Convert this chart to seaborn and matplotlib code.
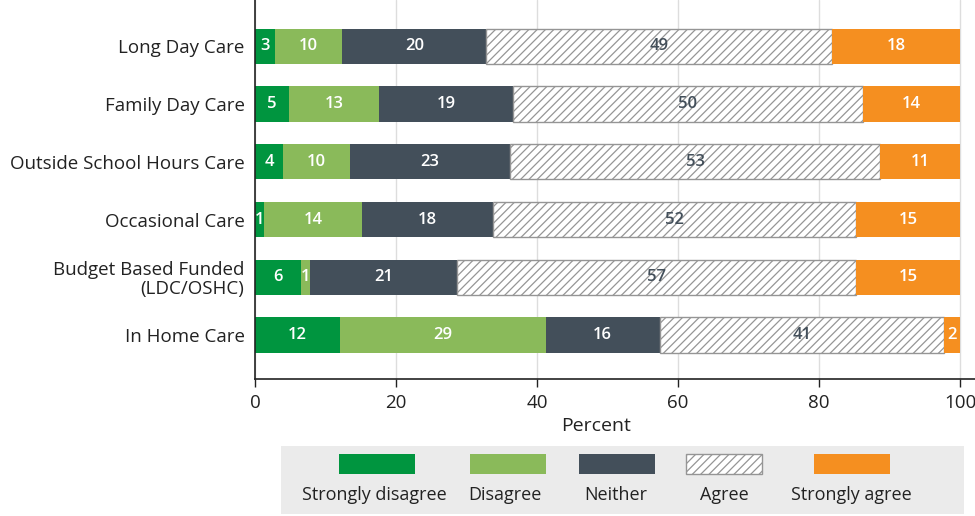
import matplotlib
matplotlib.use("Agg")
import matplotlib.pyplot as plt
from matplotlib.patches import Rectangle
import seaborn as sns
import pandas as pd
import numpy as np

categories = ["Long Day Care", "Family Day Care", "Outside School Hours Care",
              "Occasional Care", "Budget Based Funded\n(LDC/OSHC)", "In Home Care"]
responses = ["Strongly disagree", "Disagree", "Neither", "Agree", "Strongly agree"]

strongly_disagree = [2.8, 4.8, 4.0, 1.3, 6.5, 12.1]
disagree          = [9.6, 12.8, 9.5, 13.9, 1.3, 29.1]
neither           = [20.4, 19.0, 22.7, 18.5, 20.9, 16.2]
agree             = [49.0, 49.6, 52.4, 51.5, 56.5, 40.3]
strongly_agree    = [18.2, 13.8, 11.4, 14.8, 14.8, 2.3]

lab_sd = [3, 5, 4, 1, 6, 12]
lab_d  = [10, 13, 10, 14, 1, 29]
lab_n  = [20, 19, 23, 18, 21, 16]
lab_a  = [49, 50, 53, 52, 57, 41]
lab_sa = [18, 14, 11, 15, 15, 2]

series = [strongly_disagree, disagree, neither, agree, strongly_agree]
labels = [lab_sd, lab_d, lab_n, lab_a, lab_sa]
colors = ["#00953f", "#8aba5a", "#434f5a", "#ffffff", "#f58f20"]
text_colors = ["white", "white", "white", "#434f5a", "white"]

sns.set_style("white")
plt.rcParams['font.family'] = ['Open Sans', 'DejaVu Sans']
plt.rcParams['hatch.linewidth'] = 0.9

fig = plt.figure(figsize=(9.75, 5.16), dpi=100)
ax = fig.add_axes([255/975, 1 - 379/516, (975-255)/975, 379/516])

left = np.zeros(len(categories))
for i, (resp, vals) in enumerate(zip(responses, series)):
    df = pd.DataFrame({"cat": categories, "val": vals})
    n0 = len(ax.patches)
    sns.barplot(data=df, x="val", y="cat", orient="h", color=colors[i],
                width=0.61, ax=ax, saturation=1, zorder=2)
    new = ax.patches[n0:]
    for p, l in zip(new, left):
        p.set_x(l)
        p.set_facecolor(colors[i])
        if resp == "Agree":
            p.set_hatch("////")
            p.set_edgecolor("#959595")
            p.set_linewidth(1.0)
        else:
            p.set_edgecolor("none")
    for p, lab in zip(new, labels[i]):
        cx = p.get_x() + p.get_width() / 2
        cy = p.get_y() + p.get_height() / 2
        ax.text(cx, cy, str(lab), ha="center", va="center", color=text_colors[i],
                fontsize=12, fontweight="semibold", zorder=5)
    left = left + np.array(vals)

ax.set_xlim(0, 102.1)
ax.set_ylim(5.76, -0.80)
ax.set_xticks([0, 20, 40, 60, 80, 100])
ax.xaxis.grid(True, color="#dddddd", linewidth=1, zorder=0)
ax.set_axisbelow(True)
ax.set_ylabel("")
ax.set_xlabel("Percent", fontsize=14, color="#222222")
ax.xaxis.label.set_verticalalignment("center")
ax.xaxis.set_label_coords((596-255)/(975-255), (379-426)/379)
for s in ["top", "right"]:
    ax.spines[s].set_visible(False)
for s in ["left", "bottom"]:
    ax.spines[s].set_color("#222222")
    ax.spines[s].set_linewidth(1.2)
ax.tick_params(axis="x", bottom=True, length=6, width=1, color="#222222",
               labelsize=13.5, pad=5, labelcolor="#222222")
ax.tick_params(axis="y", left=False, labelsize=13.5, pad=4, labelcolor="#222222")
for t in ax.get_yticklabels():
    t.set_linespacing(1.05)

# legend panel
lax = fig.add_axes([281/975, 2/516, (964-281)/975, 68/516])
lax.set_xlim(281, 964)
lax.set_ylim(514, 446)
lax.set_facecolor("#ebebeb")
for s in lax.spines.values():
    s.set_visible(False)
lax.set_xticks([])
lax.set_yticks([])
patch_centers = [377, 508, 617, 724, 852]
text_centers = [374, 505, 616, 724, 851]
for pc, tc, resp, col in zip(patch_centers, text_centers, responses, colors):
    r = Rectangle((pc - 38, 454), 76, 20, facecolor=col,
                  edgecolor="#959595" if resp == "Agree" else "none",
                  hatch="////" if resp == "Agree" else None, linewidth=1)
    lax.add_patch(r)
    lax.text(tc, 495, resp, ha="center", va="center", fontsize=13, color="#222222")

fig.savefig("out.png", dpi=100)
